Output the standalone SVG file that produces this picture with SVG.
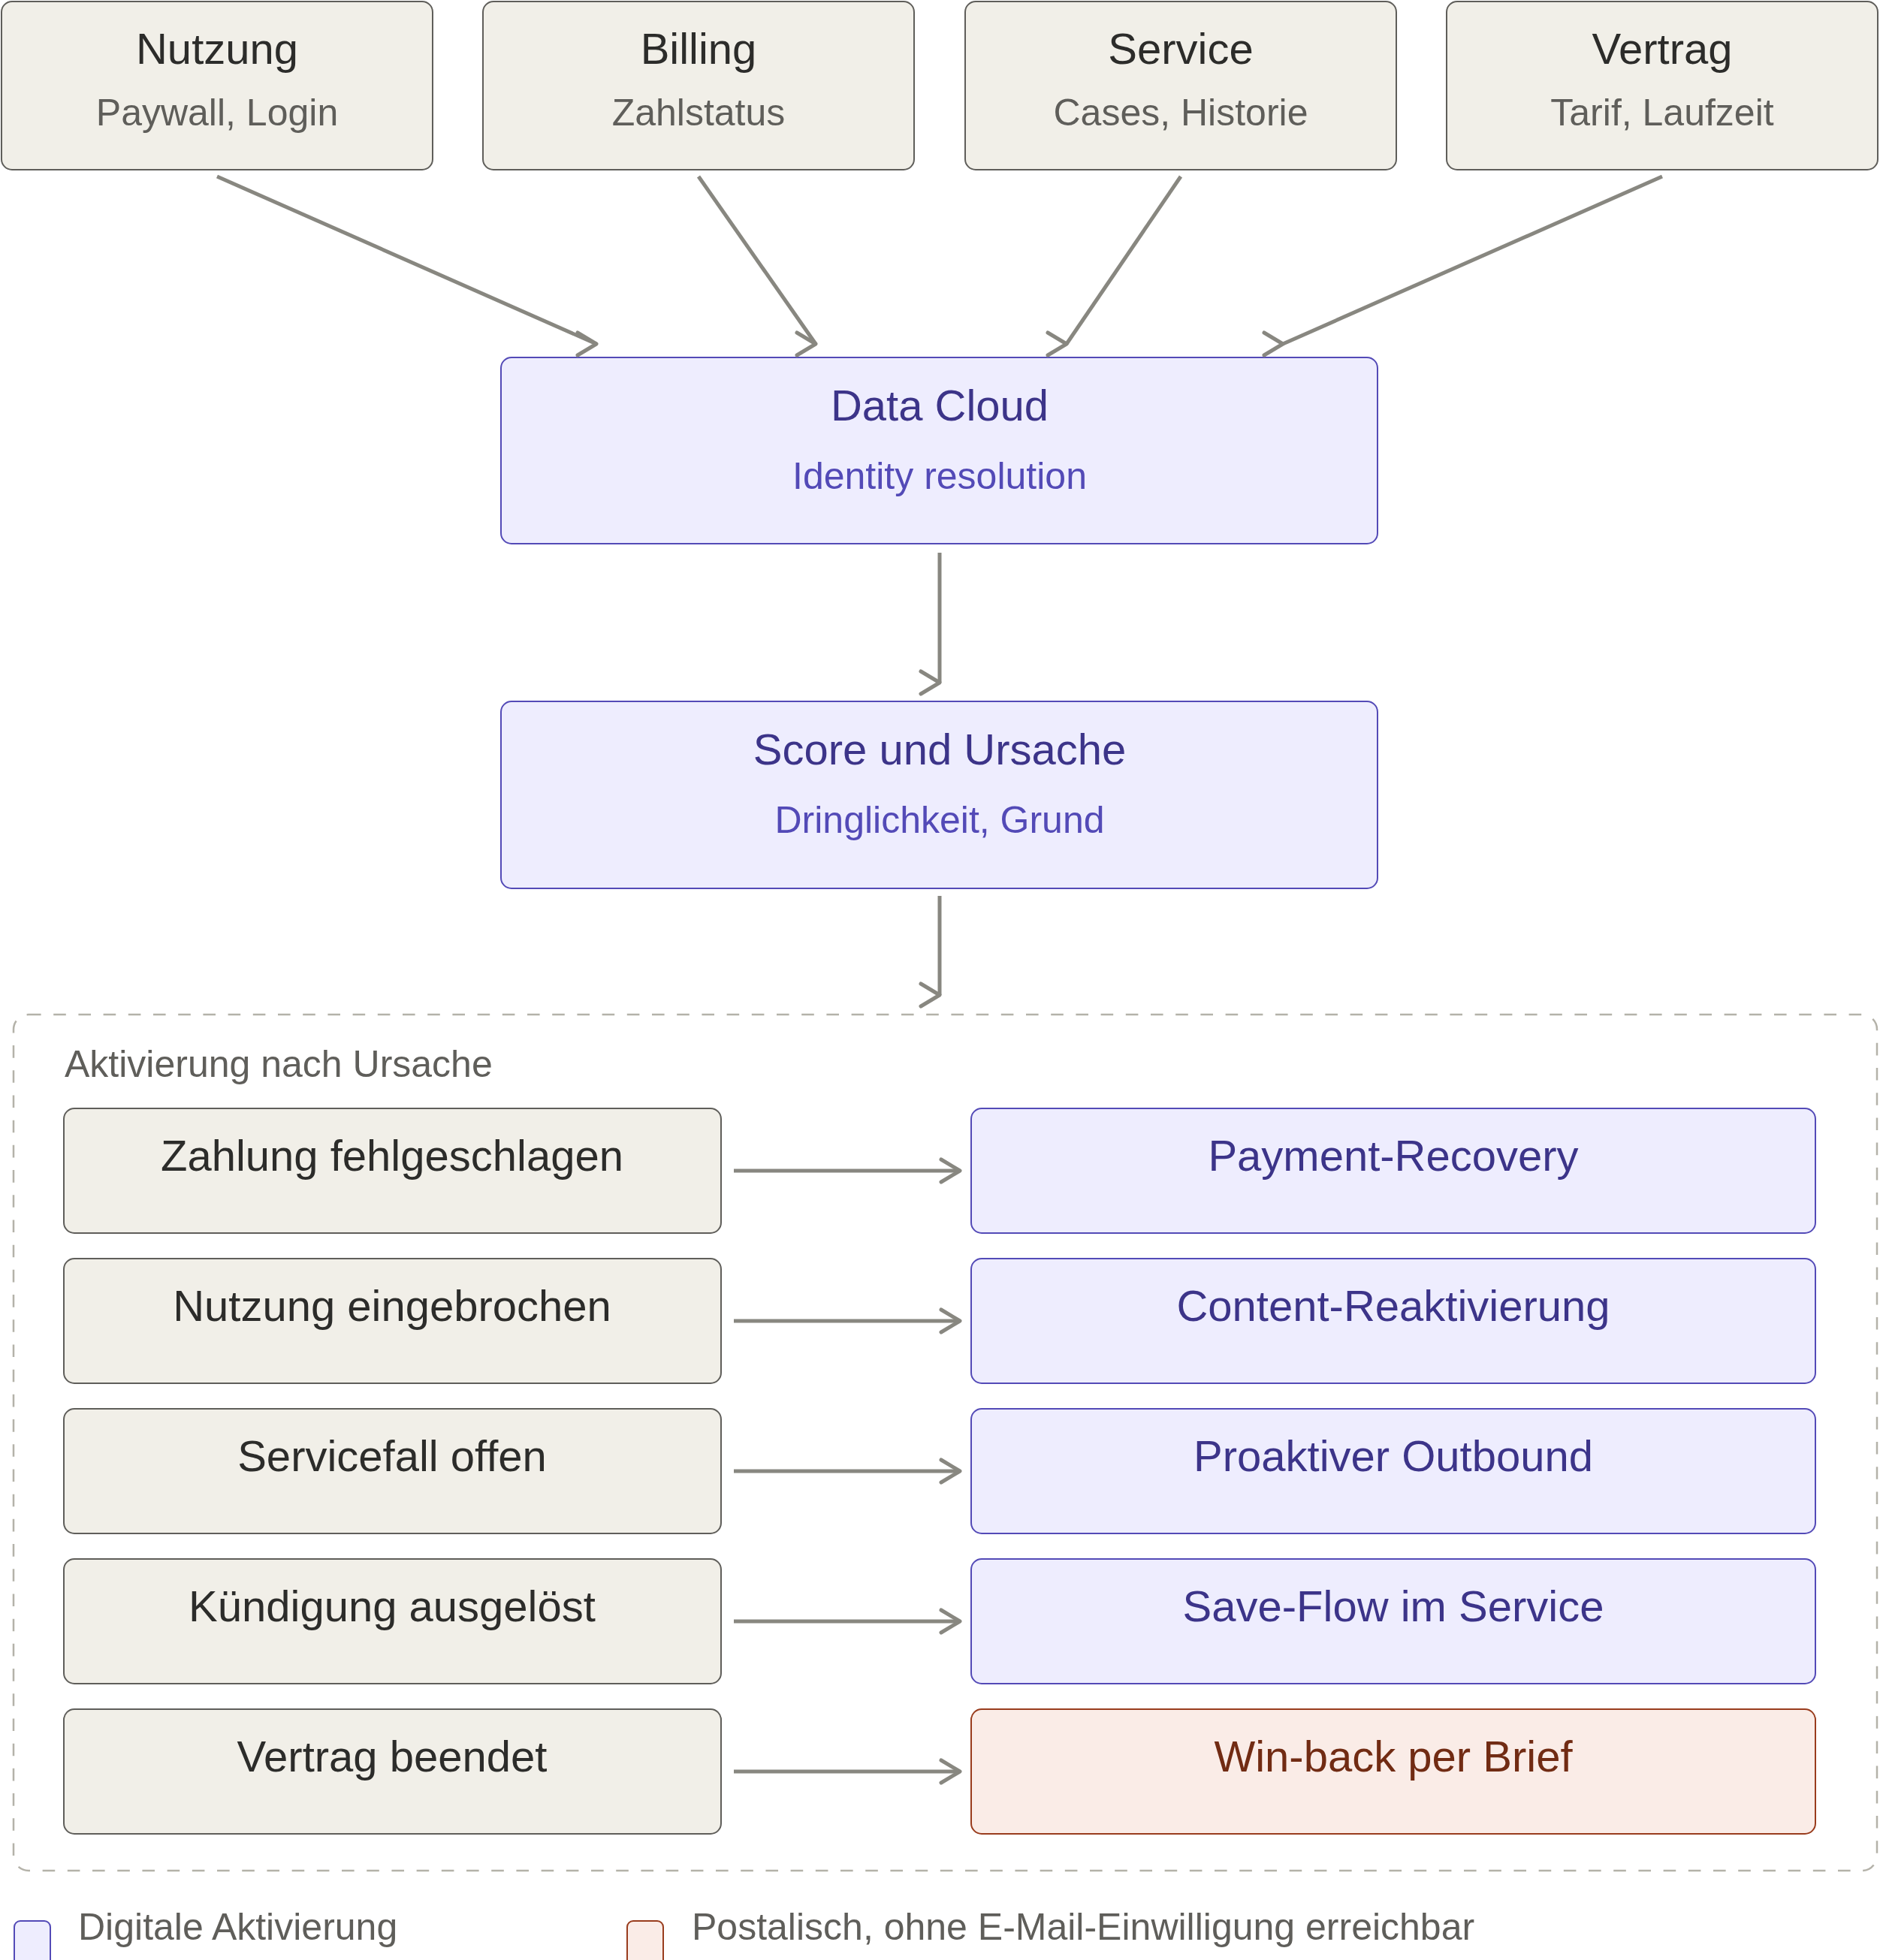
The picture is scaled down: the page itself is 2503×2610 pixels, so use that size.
<svg xmlns="http://www.w3.org/2000/svg" width="2503" height="2610" viewBox="0 0 2503 2610">
<style>
text{font-family:"Liberation Sans",Arial,Helvetica,sans-serif}
.t{font-size:58px;text-anchor:middle}
.s{font-size:50px;text-anchor:middle}
.gray rect{fill:#f1efe8;stroke:#5f5e5a;stroke-width:2}
.gray .t{fill:#2c2c2a}
.gray .s{fill:#5f5e5a}
.blue rect{fill:#eeedfe;stroke:#534ab7;stroke-width:2}
.blue .t{fill:#3c3489}
.blue .s{fill:#534ab7}
.red rect{fill:#faece7;stroke:#993c1d;stroke-width:2}
.red .t{fill:#712b13}
.lbl{font-size:50px;fill:#5f5e5a}
.edge{fill:none;stroke:#888780;stroke-width:5;marker-end:url(#ah)}
</style>
<defs>
<marker id="ah" markerUnits="userSpaceOnUse" markerWidth="40" markerHeight="40" refX="0" refY="0" overflow="visible">
<path d="M-25,-15 L0,0 L-25,15" fill="none" stroke="#888780" stroke-width="5" stroke-linecap="round" stroke-linejoin="round"/>
</marker>
</defs>
<rect width="2503" height="2610" fill="#ffffff"/>

<g id="group-aktivierung">
<rect x="18" y="1351" width="2481" height="1140" rx="20" fill="none" stroke="#b4b2a9" stroke-width="2.5" stroke-dasharray="16.6 16.6"/>
<text class="lbl" x="86" y="1434">Aktivierung nach Ursache</text>
</g>

<g id="nutzung" class="gray"><rect x="2" y="2" width="574" height="224" rx="14"/><text class="t" x="289" y="85">Nutzung</text><text class="s" x="289" y="167">Paywall, Login</text></g>
<g id="billing" class="gray"><rect x="643" y="2" width="574" height="224" rx="14"/><text class="t" x="930" y="85">Billing</text><text class="s" x="930" y="167">Zahlstatus</text></g>
<g id="service" class="gray"><rect x="1285" y="2" width="574" height="224" rx="14"/><text class="t" x="1572" y="85">Service</text><text class="s" x="1572" y="167">Cases, Historie</text></g>
<g id="vertrag" class="gray"><rect x="1926" y="2" width="574" height="224" rx="14"/><text class="t" x="2213" y="85">Vertrag</text><text class="s" x="2213" y="167">Tarif, Laufzeit</text></g>

<g id="datacloud" class="blue"><rect x="667" y="476" width="1167" height="248" rx="14"/><text class="t" x="1251" y="560">Data Cloud</text><text class="s" x="1251" y="651">Identity resolution</text></g>
<g id="score" class="blue"><rect x="667" y="934" width="1167" height="249" rx="14"/><text class="t" x="1251" y="1018">Score und Ursache</text><text class="s" x="1251" y="1109">Dringlichkeit, Grund</text></g>

<g id="zahlung" class="gray"><rect x="85" y="1476" width="875" height="166" rx="14"/><text class="t" x="522" y="1559">Zahlung fehlgeschlagen</text></g>
<g id="nutzung-ein" class="gray"><rect x="85" y="1676" width="875" height="166" rx="14"/><text class="t" x="522" y="1759">Nutzung eingebrochen</text></g>
<g id="servicefall" class="gray"><rect x="85" y="1876" width="875" height="166" rx="14"/><text class="t" x="522" y="1959">Servicefall offen</text></g>
<g id="kuendigung" class="gray"><rect x="85" y="2076" width="875" height="166" rx="14"/><text class="t" x="522" y="2159">Kündigung ausgelöst</text></g>
<g id="vertrag-beendet" class="gray"><rect x="85" y="2276" width="875" height="166" rx="14"/><text class="t" x="522" y="2359">Vertrag beendet</text></g>

<g id="payment" class="blue"><rect x="1293" y="1476" width="1124" height="166" rx="14"/><text class="t" x="1855" y="1559">Payment-Recovery</text></g>
<g id="content" class="blue"><rect x="1293" y="1676" width="1124" height="166" rx="14"/><text class="t" x="1855" y="1759">Content-Reaktivierung</text></g>
<g id="outbound" class="blue"><rect x="1293" y="1876" width="1124" height="166" rx="14"/><text class="t" x="1855" y="1959">Proaktiver Outbound</text></g>
<g id="saveflow" class="blue"><rect x="1293" y="2076" width="1124" height="166" rx="14"/><text class="t" x="1855" y="2159">Save-Flow im Service</text></g>
<g id="winback" class="red"><rect x="1293" y="2276" width="1124" height="166" rx="14"/><text class="t" x="1855" y="2359">Win-back per Brief</text></g>

<g id="connectors">
<path class="edge" d="M289,235 L794,458"/>
<path class="edge" d="M930,235 L1086,458"/>
<path class="edge" d="M1572,235 L1420,458"/>
<path class="edge" d="M2213,235 L1708,458"/>
<path class="edge" d="M1251,736 L1251,909"/>
<path class="edge" d="M1251,1193 L1251,1325"/>
<path class="edge" d="M977,1559 L1278,1559"/>
<path class="edge" d="M977,1759 L1278,1759"/>
<path class="edge" d="M977,1959 L1278,1959"/>
<path class="edge" d="M977,2159 L1278,2159"/>
<path class="edge" d="M977,2359 L1278,2359"/>
</g>

<g id="legend">
<rect x="19" y="2558" width="48" height="60" rx="8" fill="#eeedfe" stroke="#534ab7" stroke-width="2"/>
<text class="lbl" x="104" y="2583">Digitale Aktivierung</text>
<rect x="835" y="2558" width="48" height="60" rx="8" fill="#faece7" stroke="#993c1d" stroke-width="2"/>
<text class="lbl" x="921" y="2583">Postalisch, ohne E-Mail-Einwilligung erreichbar</text>
</g>
</svg>
